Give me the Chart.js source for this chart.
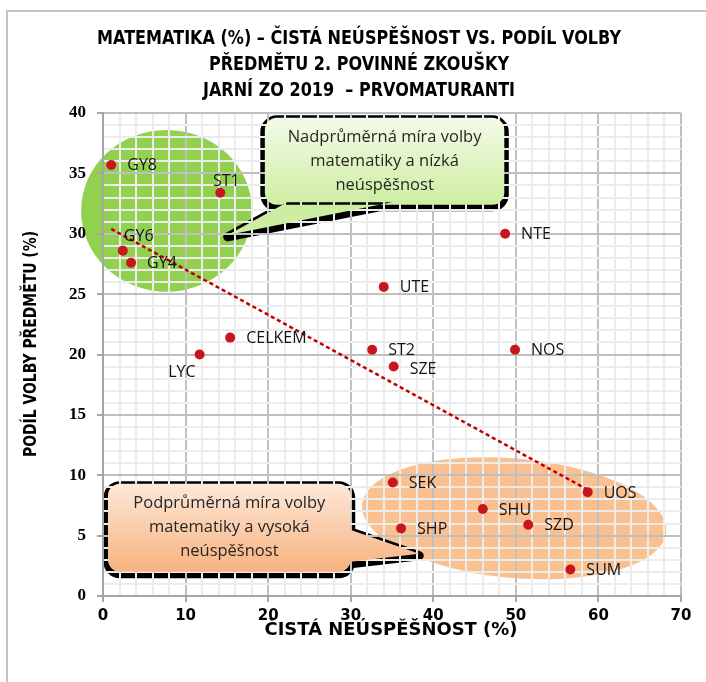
<!DOCTYPE html>
<html><head><meta charset="utf-8">
<script src="https://cdn.jsdelivr.net/npm/chart.js@4/dist/chart.umd.min.js"></script>
<style>html,body{margin:0;padding:0;background:#fff}canvas{display:block}</style>
</head><body>
<canvas id="c" width="706" height="682"></canvas>
<script>
// ---- data ----
const schoolLabels = ['GY8','ST1','GY6','GY4','CELKEM','LYC','NTE','UTE','ST2','SZE','NOS','SEK','UOS','SHU','SHP','SZD','SUM'];
const netFailure   = [1.0,14.2,2.4,3.4,15.4,11.7,48.7,34.0,32.6,35.2,49.9,35.1,58.7,46.0,36.1,51.5,56.6];
const choiceShare  = [35.7,33.4,28.6,27.6,21.4,20.0,30.0,25.6,20.4,19.0,20.4,9.4,8.6,7.2,5.6,5.9,2.2];
const trendX = [1.0, 58.7];
const trendY = [30.4, 8.8];
const xTickLabels = [0,10,20,30,40,50,60,70];
const yTickLabels = [0,5,10,15,20,25,30,35,40];
const titleLines = ['MATEMATIKA (%) – ČISTÁ NEÚSPĚŠNOST VS. PODÍL VOLBY','PŘEDMĚTU 2. POVINNÉ ZKOUŠKY','JARNÍ ZO 2019  – PRVOMATURANTI'];
const xTitle = 'ČISTÁ NEÚSPĚŠNOST (%)';
const yTitle = 'PODÍL VOLBY PŘEDMĚTU (%)';
const calloutGreenText  = ['Nadprůměrná míra volby','matematiky a nízká','neúspěšnost'];
const calloutOrangeText = ['Podprůměrná míra volby','matematiky a vysoká','neúspěšnost'];

// ---- styling / placement ----
const MAJOR='#bfbfbf', MINOR='#ececec', AXIS='#a6a6a6';
const labelPlacement = {ST1:'above', GY6:'aboveRight', LYC:'belowLeft', SZE:'rightLow'};
const HEAVY = 'bold 19px "DejaVu Sans", sans-serif';
const HEAVY_S = 'bold 17px "DejaVu Sans", sans-serif';

function drawScaled(ctx, text, x, y, font, s){
  ctx.font = font;
  ctx.save(); ctx.translate(x,y); ctx.scale(s,1);
  ctx.textAlign='center'; ctx.textBaseline='middle';
  ctx.fillText(text,0,0); ctx.restore();
}
function fitText(ctx, text, x, y, font, targetW){
  ctx.font = font;
  drawScaled(ctx, text, x, y, font, targetW / ctx.measureText(text).width);
}

function calloutPath(ctx, b){
  ctx.beginPath();
  ctx.roundRect(b.x1, b.y1, b.x2-b.x1, b.y2-b.y1, 12);
  ctx.moveTo(b.tail[0][0], b.tail[0][1]);
  ctx.lineTo(b.tail[1][0], b.tail[1][1]);
  ctx.lineTo(b.tail[2][0], b.tail[2][1]);
  ctx.closePath();
}

function getCallouts(chart){
  const xs=chart.scales.x, ys=chart.scales.y;
  const X=v=>xs.getPixelForValue(v), Y=v=>ys.getPixelForValue(v);
  return [
    {x1:X(19.6), x2:X(48.6), y1:Y(39.6), y2:Y(32.4),
     tail:[[X(22.3),Y(32.6)],[X(15.1),Y(29.9)],[X(35.0),Y(32.6)]],
     top:'#f4fbe8', bottom:'#cdeea2', text:calloutGreenText},
    {x1:X(0.6), x2:X(30.0), y1:Y(9.3), y2:Y(2.0),
     tail:[[X(29.5),Y(5.6)],[X(38.3),Y(3.5)],[X(29.5),Y(2.8)]],
     top:'#fde8da', bottom:'#f8b27f', text:calloutOrangeText}
  ];
}

const decor = {
  id:'decor',
  beforeDraw(chart){
    const {ctx} = chart;
    const xs=chart.scales.x, ys=chart.scales.y;
    const X=v=>xs.getPixelForValue(v), Y=v=>ys.getPixelForValue(v);
    const sx=(xs.right-xs.left)/70, sy=(ys.bottom-ys.top)/40;
    ctx.save();
    ctx.fillStyle='#fff'; ctx.fillRect(0,0,chart.width,chart.height);
    ctx.strokeStyle='#c4c4c4'; ctx.lineWidth=2;
    ctx.beginPath(); ctx.moveTo(7,chart.height); ctx.lineTo(7,11); ctx.lineTo(chart.width,11); ctx.stroke();
    // green ellipse
    ctx.fillStyle='#92d050';
    ctx.beginPath(); ctx.ellipse(X(7.7),Y(31.9),10.35*sx,6.7*sy,0,0,Math.PI*2); ctx.fill();
    // orange ellipse
    ctx.fillStyle='#fac08f';
    ctx.beginPath(); ctx.ellipse(X(49.8),Y(6.44),18.5*sx,4.95*sy,0.09,0,Math.PI*2); ctx.fill();
    // callout shadows (grid lines will cross them)
    for(const c of getCallouts(chart)){
      ctx.save(); ctx.translate(0,2);
      calloutPath(ctx,c);
      ctx.lineJoin='round'; ctx.lineWidth=9; ctx.strokeStyle='#000'; ctx.stroke();
      ctx.fillStyle='#000'; ctx.fill();
      ctx.restore();
    }
    ctx.restore();
  },
  beforeDatasetsDraw(chart){
    const {ctx}=chart;
    ctx.save();
    for(const c of getCallouts(chart)){
      const g=ctx.createLinearGradient(0,c.y1,0,c.y2);
      g.addColorStop(0,c.top); g.addColorStop(1,c.bottom);
      ctx.fillStyle=g;
      calloutPath(ctx,c); ctx.fill();
      ctx.fillStyle='#262626'; ctx.font='16.5px "Open Sans"';
      ctx.textAlign='center'; ctx.textBaseline='middle';
      const cx=(c.x1+c.x2)/2, cy=(c.y1+c.y2)/2;
      c.text.forEach((t,i)=>ctx.fillText(t,cx,cy+(i-1)*24));
    }
    ctx.restore();
  },
  afterDatasetsDraw(chart){
    const {ctx}=chart;
    const meta=chart.getDatasetMeta(0);
    ctx.save();
    ctx.fillStyle='#141414'; ctx.font='16px "Open Sans"';
    meta.data.forEach((pt,i)=>{
      const name=schoolLabels[i];
      const mode=labelPlacement[name];
      let x=pt.x+16, y=pt.y+1, align='left';
      if(mode==='above'){x=pt.x+6; y=pt.y-11; align='center';}
      else if(mode==='aboveRight'){x=pt.x+1; y=pt.y-14;}
      else if(mode==='belowLeft'){x=pt.x-4; y=pt.y+18; align='right';}
      else if(mode==='rightLow'){y=pt.y+3;}
      ctx.textAlign=align; ctx.textBaseline='middle';
      ctx.fillText(name,x,y);
    });
    // titles: one common horizontal condensation, set by the first line
    ctx.fillStyle='#000';
    ctx.font=HEAVY;
    const s = 524 / ctx.measureText(titleLines[0]).width;
    const ty=[39,65,91];
    titleLines.forEach((t,i)=>drawScaled(ctx,t,359,ty[i],HEAVY,s));
    fitText(ctx,xTitle,391,631,HEAVY_S,253);
    ctx.save(); ctx.translate(32,344); ctx.rotate(-Math.PI/2);
    fitText(ctx,yTitle,0,0,HEAVY_S,226);
    ctx.restore();
    ctx.restore();
  }
};

const isMajorX=v=>xTickLabels.includes(v), isMajorY=v=>yTickLabels.includes(v);

new Chart(document.getElementById('c'),{
  type:'scatter',
  data:{datasets:[
    {type:'scatter', data:schoolLabels.map((l,i)=>({x:netFailure[i],y:choiceShare[i]})),
     backgroundColor:'#c8161e', borderWidth:0, pointRadius:5, order:0},
    {type:'line', data:trendX.map((x,i)=>({x,y:trendY[i]})), borderColor:'#c00000',
     borderWidth:2.5, borderDash:[4,3], pointRadius:0, fill:false, order:1}
  ]},
  options:{
    responsive:false, animation:false, devicePixelRatio:1,
    layout:{padding:{top:113,right:25,left:0,bottom:0}},
    plugins:{legend:{display:false},tooltip:{enabled:false},title:{display:false}},
    scales:{
      x:{type:'linear',min:0,max:70,
        afterFit(s){s.height=86;},
        grid:{color:c=>isMajorX(c.tick.value)?MAJOR:MINOR, lineWidth:2,
              tickColor:c=>isMajorX(c.tick.value)?AXIS:'rgba(0,0,0,0)', tickLength:6},
        border:{color:AXIS,width:2},
        ticks:{stepSize:2,autoSkip:false,maxRotation:0,padding:5,
          callback:v=>isMajorX(v)?String(v):'',
          font:{family:'"DejaVu Sans"',weight:'bold',size:15},color:'#000'}},
      y:{type:'linear',min:0,max:40,
        afterFit(s){s.width=103;},
        grid:{color:c=>isMajorY(c.tick.value)?MAJOR:MINOR, lineWidth:2,
              tickColor:c=>isMajorY(c.tick.value)?AXIS:'rgba(0,0,0,0)', tickLength:6},
        border:{color:AXIS,width:2},
        ticks:{stepSize:1,autoSkip:false,padding:11,
          callback:v=>isMajorY(v)?String(v):'',
          font:{family:'Liberation Serif',weight:'bold',size:17},color:'#000'}}
    }
  },
  plugins:[decor]
});
</script>
</body></html>
